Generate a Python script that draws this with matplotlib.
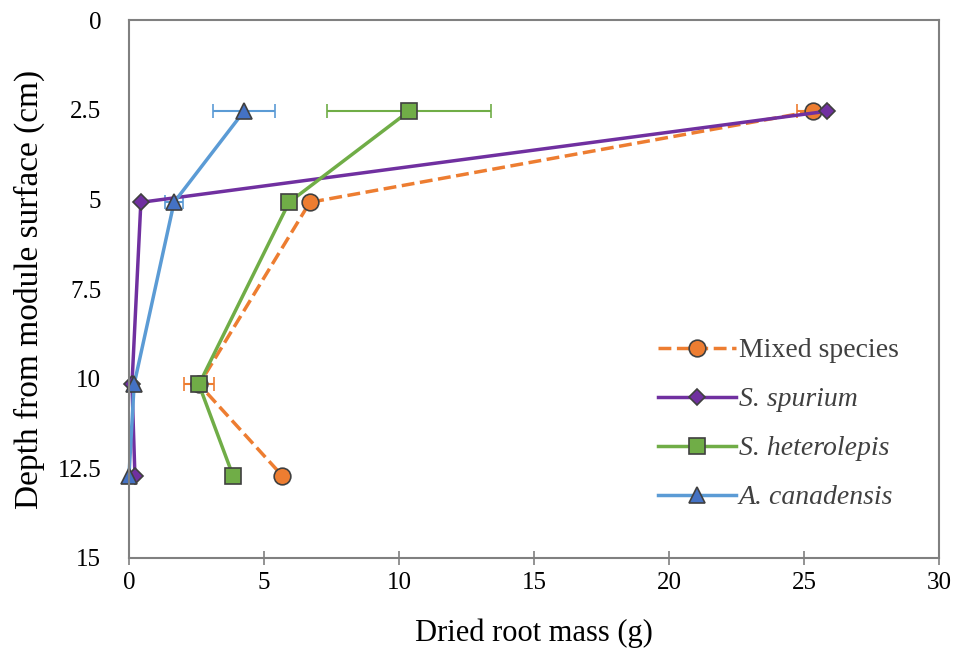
import matplotlib
matplotlib.use('Agg')
import matplotlib.pyplot as plt
from matplotlib.lines import Line2D

depth = [2.54, 5.08, 10.16, 12.7]

mixed = [25.33, 6.7, 2.6, 5.67]
mixed_err = [0.6, 0.0, 0.55, 0.0]
spurium = [25.85, 0.44, 0.11, 0.22]
spurium_err = [0.0, 0.0, 0.0, 0.0]
heterolepis = [10.37, 5.93, 2.59, 3.85]
heterolepis_err = [3.03, 0.0, 0.0, 0.0]
canadensis = [4.26, 1.67, 0.19, 0.0]
canadensis_err = [1.15, 0.33, 0.0, 0.0]

labels = ['Mixed species', 'S. spurium', 'S. heterolepis', 'A. canadensis']
italic = [False, True, True, True]

plt.rcParams['font.family'] = ['Liberation Serif', 'DejaVu Serif']

fig = plt.figure(figsize=(9.59, 6.51), dpi=100)
ax = fig.add_axes([0.1345, 0.1429, 0.979 - 0.1345, 0.969 - 0.1429])

series = [
    (mixed, mixed_err, '#ED7D31', '#ED7D31', 'o', '--', 12),
    (spurium, spurium_err, '#7030A0', '#7030A0', 'D', '-', 8),
    (heterolepis, heterolepis_err, '#70AD47', '#70AD47', 's', '-', 12),
    (canadensis, canadensis_err, '#5B9BD5', '#4472C4', '^', '-', 12),
]
handles = []
for (x, xe, lc, fc, m, ls, ms), lab in zip(series, labels):
    style = dict(color=lc, linestyle=ls, linewidth=2.5, marker=m, markersize=ms,
                 markerfacecolor=fc, markeredgecolor='#404040', markeredgewidth=1.2)
    eb = ax.errorbar(x, depth, xerr=xe, ecolor=lc, elinewidth=1.5, capsize=5,
                     capthick=1.5, **style)
    for art in eb.get_children():
        art.set_clip_on(False)
    handles.append(Line2D([], [], **style))

ax.set_xlim(0, 30)
ax.set_ylim(15, 0)
ax.set_xticks([0, 5, 10, 15, 20, 25, 30])
ax.set_yticks([0, 2.5, 5, 7.5, 10, 12.5, 15])
ax.set_yticklabels(['0', '2.5', '5', '7.5', '10', '12.5', '15'])
for s in ax.spines.values():
    s.set_color('#808080')
    s.set_linewidth(1.5)
ax.tick_params(axis='x', direction='inout', length=10, width=1.2, color='#808080',
               labelsize=18, pad=5)
ax.tick_params(axis='y', length=0, labelsize=18, pad=20)
ax.set_xlabel('Dried root mass (g)', fontsize=22, labelpad=18)
ax.set_ylabel('Depth from module surface (cm)', fontsize=24, labelpad=9)

leg = ax.legend(handles, labels, loc='upper left', bbox_to_anchor=(0.64, 0.43),
                frameon=False, fontsize=20, handlelength=2.8, labelspacing=0.85,
                handletextpad=0.1, borderaxespad=0)
for t, it in zip(leg.get_texts(), italic):
    t.set_color('#404040')
    if it:
        t.set_fontstyle('italic')

fig.savefig('out.png', dpi=100)
